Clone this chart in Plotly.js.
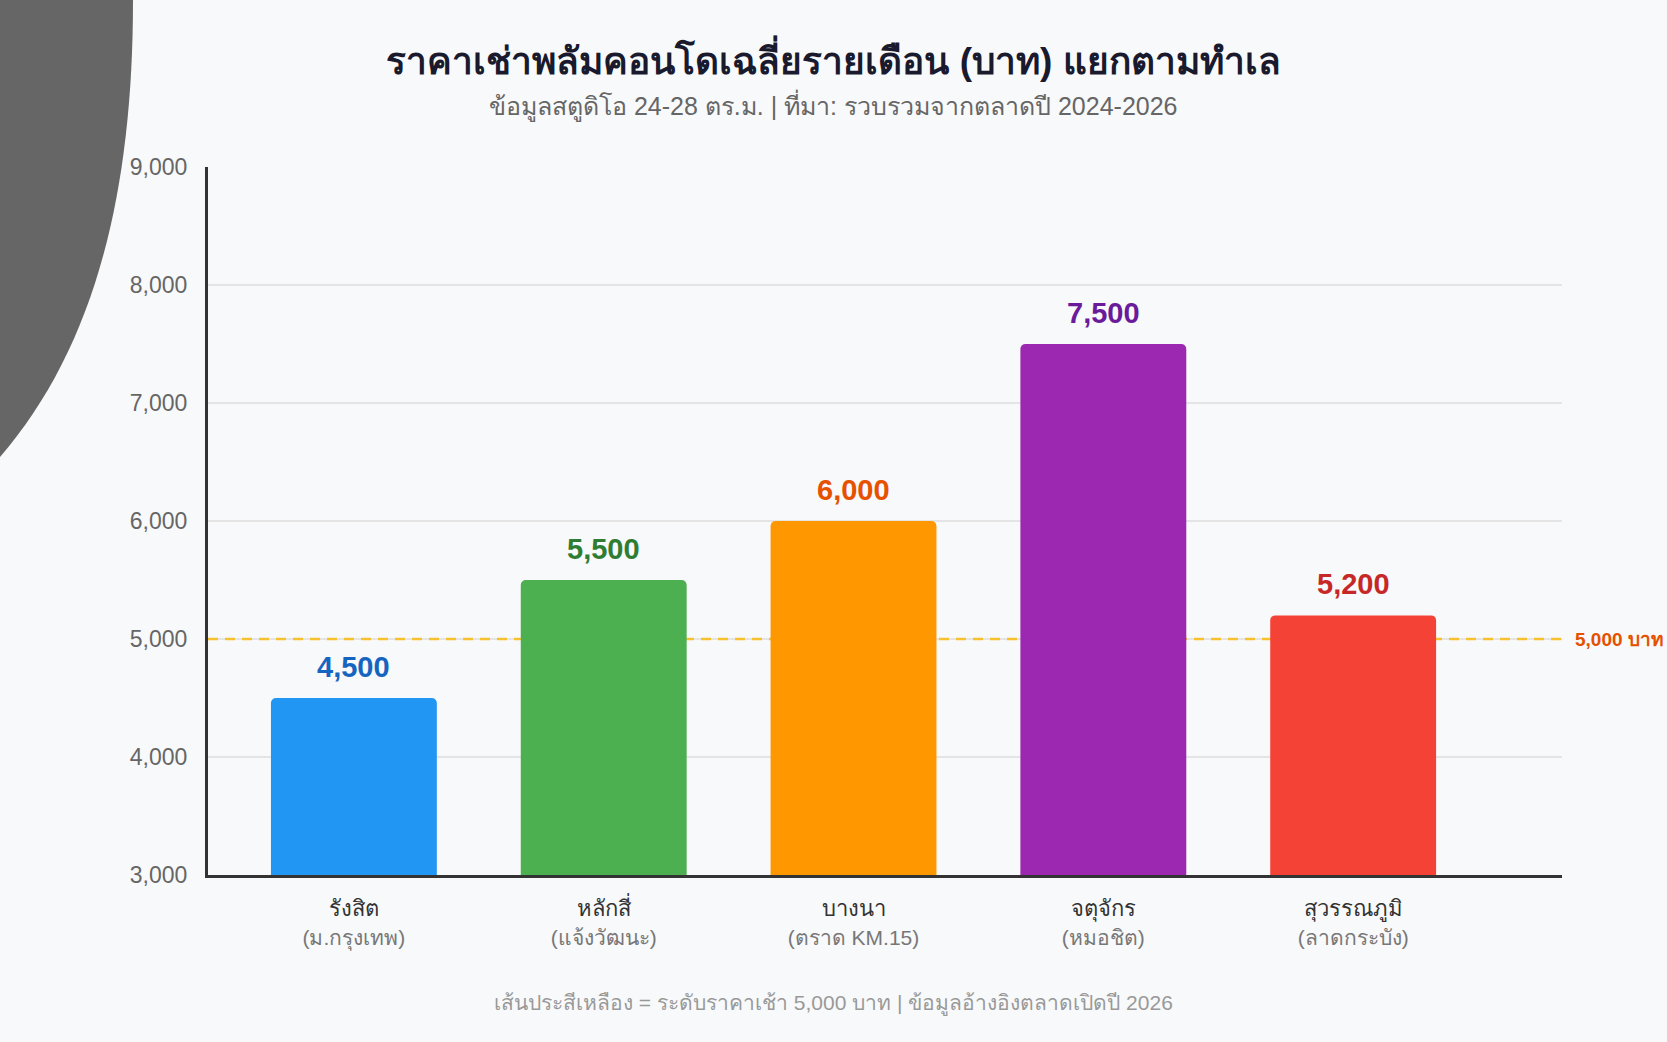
<!DOCTYPE html>
<html>
<head>
<meta charset="utf-8">
<script src="https://cdn.plot.ly/plotly-3.0.1.min.js"></script>
<style>
  html, body { margin: 0; padding: 0; background: #f8f9fa; }
  #chart { width: 1667px; height: 1042px; }
</style>
</head>
<body>
<div id="chart"></div>
<script>
// ---- data ----
const areas = ['รังสิต', 'หลักสี่', 'บางนา', 'จตุจักร', 'สุวรรณภูมิ'];
const landmarks = ['(ม.กรุงเทพ)', '(แจ้งวัฒนะ)', '(ตราด KM.15)', '(หมอชิต)', '(ลาดกระบัง)'];
const rents = [4500, 5500, 6000, 7500, 5200];
const barColors = ['#2196F3', '#4CAF50', '#FF9800', '#9C27B0', '#F44336'];
const labelColors = ['#1565C0', '#2E7D32', '#E65100', '#6A1B9A', '#C62828'];
const yTicks = [3000, 4000, 5000, 6000, 7000, 8000, 9000];
const refLevel = 5000;
const refLabel = '5,000 บาท';
const titleText = 'ราคาเช่าพลัมคอนโดเฉลี่ยรายเดือน (บาท) แยกตามทำเล';
const subtitleText = 'ข้อมูลสตูดิโอ 24-28 ตร.ม. | ที่มา: รวบรวมจากตลาดปี 2024-2026';
const footerText = 'เส้นประสีเหลือง = ระดับราคาเช้า 5,000 บาท | ข้อมูลอ้างอิงตลาดเปิดปี 2026';

// ---- layout geometry (pixels) ----
const W = 1667, H = 1042, L = 208, R = 1562, T = 167, B = 875;
const PW = R - L, PH = B - T;
const px = x => (x - L) / PW;
const py = y => (B - y) / PH;
const X_RANGE = [-0.584, 4.836];

const FONT = 'Liberation Sans, Arial, Noto Sans, sans-serif';

const tickText = areas.map((a, i) =>
  a + '<br><span style="font-size:21px;color:#777777">' + landmarks[i] + '</span>');

const trace = {
  type: 'bar',
  x: areas,
  y: rents,
  marker: { color: barColors, cornerradius: 5 },
  hoverinfo: 'skip',
  showlegend: false
};

const valueAnnotations = areas.map((a, i) => ({
  x: a, y: rents[i], xref: 'x', yref: 'y',
  text: '<b>' + rents[i].toLocaleString('en-US') + '</b>',
  showarrow: false, yanchor: 'bottom', yshift: 13,
  font: { family: FONT, size: 29, color: labelColors[i] }
}));

// decorative grey arc in the top-left corner
const arcPath = 'M ' + px(0) + ',' + py(0) +
  ' L ' + px(133) + ',' + py(0) +
  ' C ' + px(133) + ',' + py(200) + ' ' + px(92) + ',' + py(350) + ' ' + px(0) + ',' + py(457) +
  ' Z';

const layout = {
  width: W, height: H,
  paper_bgcolor: '#f8f9fa',
  plot_bgcolor: 'rgba(0,0,0,0)',
  margin: { l: L, r: W - R, t: T, b: H - B, pad: 0 },
  font: { family: FONT, color: '#333333' },
  title: {
    text: '<b>' + titleText + '</b>',
    x: 0.5, xanchor: 'center', xref: 'container',
    y: 1 - 61 / H, yanchor: 'middle', yref: 'container',
    font: { family: FONT, size: 37, color: '#1a1a2e' }
  },
  bargap: 0.336,
  xaxis: {
    type: 'category',
    range: X_RANGE,
    tickvals: areas,
    ticktext: tickText,
    tickfont: { family: FONT, size: 22, color: '#333333' },
    showline: true, linecolor: '#333333', linewidth: 3,
    showgrid: false, zeroline: false, ticks: '',
    ticklabelstandoff: 12,
    fixedrange: true
  },
  yaxis: {
    range: [3000, 9000],
    tickvals: yTicks,
    tickformat: ',d',
    tickfont: { family: FONT, size: 23, color: '#666666' },
    showline: true, linecolor: '#333333', linewidth: 3,
    showgrid: true, gridcolor: '#e4e4e4', gridwidth: 1.5,
    zeroline: false, ticks: '',
    ticklabelstandoff: 13,
    fixedrange: true
  },
  shapes: [
    {
      type: 'line', xref: 'x', yref: 'y',
      x0: X_RANGE[0], x1: X_RANGE[1], y0: refLevel, y1: refLevel,
      line: { color: '#F9C12E', width: 2.5, dash: '10px,7px' },
      layer: 'between'
    },
    {
      type: 'path', xref: 'paper', yref: 'paper',
      path: arcPath,
      fillcolor: '#666666', line: { width: 0 },
      layer: 'below'
    }
  ],
  annotations: valueAnnotations.concat([
    {
      xref: 'paper', yref: 'y', x: px(1573), y: refLevel,
      xanchor: 'left', yanchor: 'middle', showarrow: false,
      text: '<b>' + refLabel + '</b>',
      font: { family: FONT, size: 19, color: '#E65100' }
    },
    {
      xref: 'paper', yref: 'paper', x: px(833), y: py(106),
      xanchor: 'center', yanchor: 'middle', showarrow: false,
      text: subtitleText,
      font: { family: FONT, size: 25, color: '#666666' }
    },
    {
      xref: 'paper', yref: 'paper', x: px(833), y: py(1003),
      xanchor: 'center', yanchor: 'middle', showarrow: false,
      text: footerText,
      font: { family: FONT, size: 21, color: '#999999' }
    }
  ])
};

Plotly.newPlot('chart', [trace], layout, { displayModeBar: false, responsive: false });
</script>
</body>
</html>
